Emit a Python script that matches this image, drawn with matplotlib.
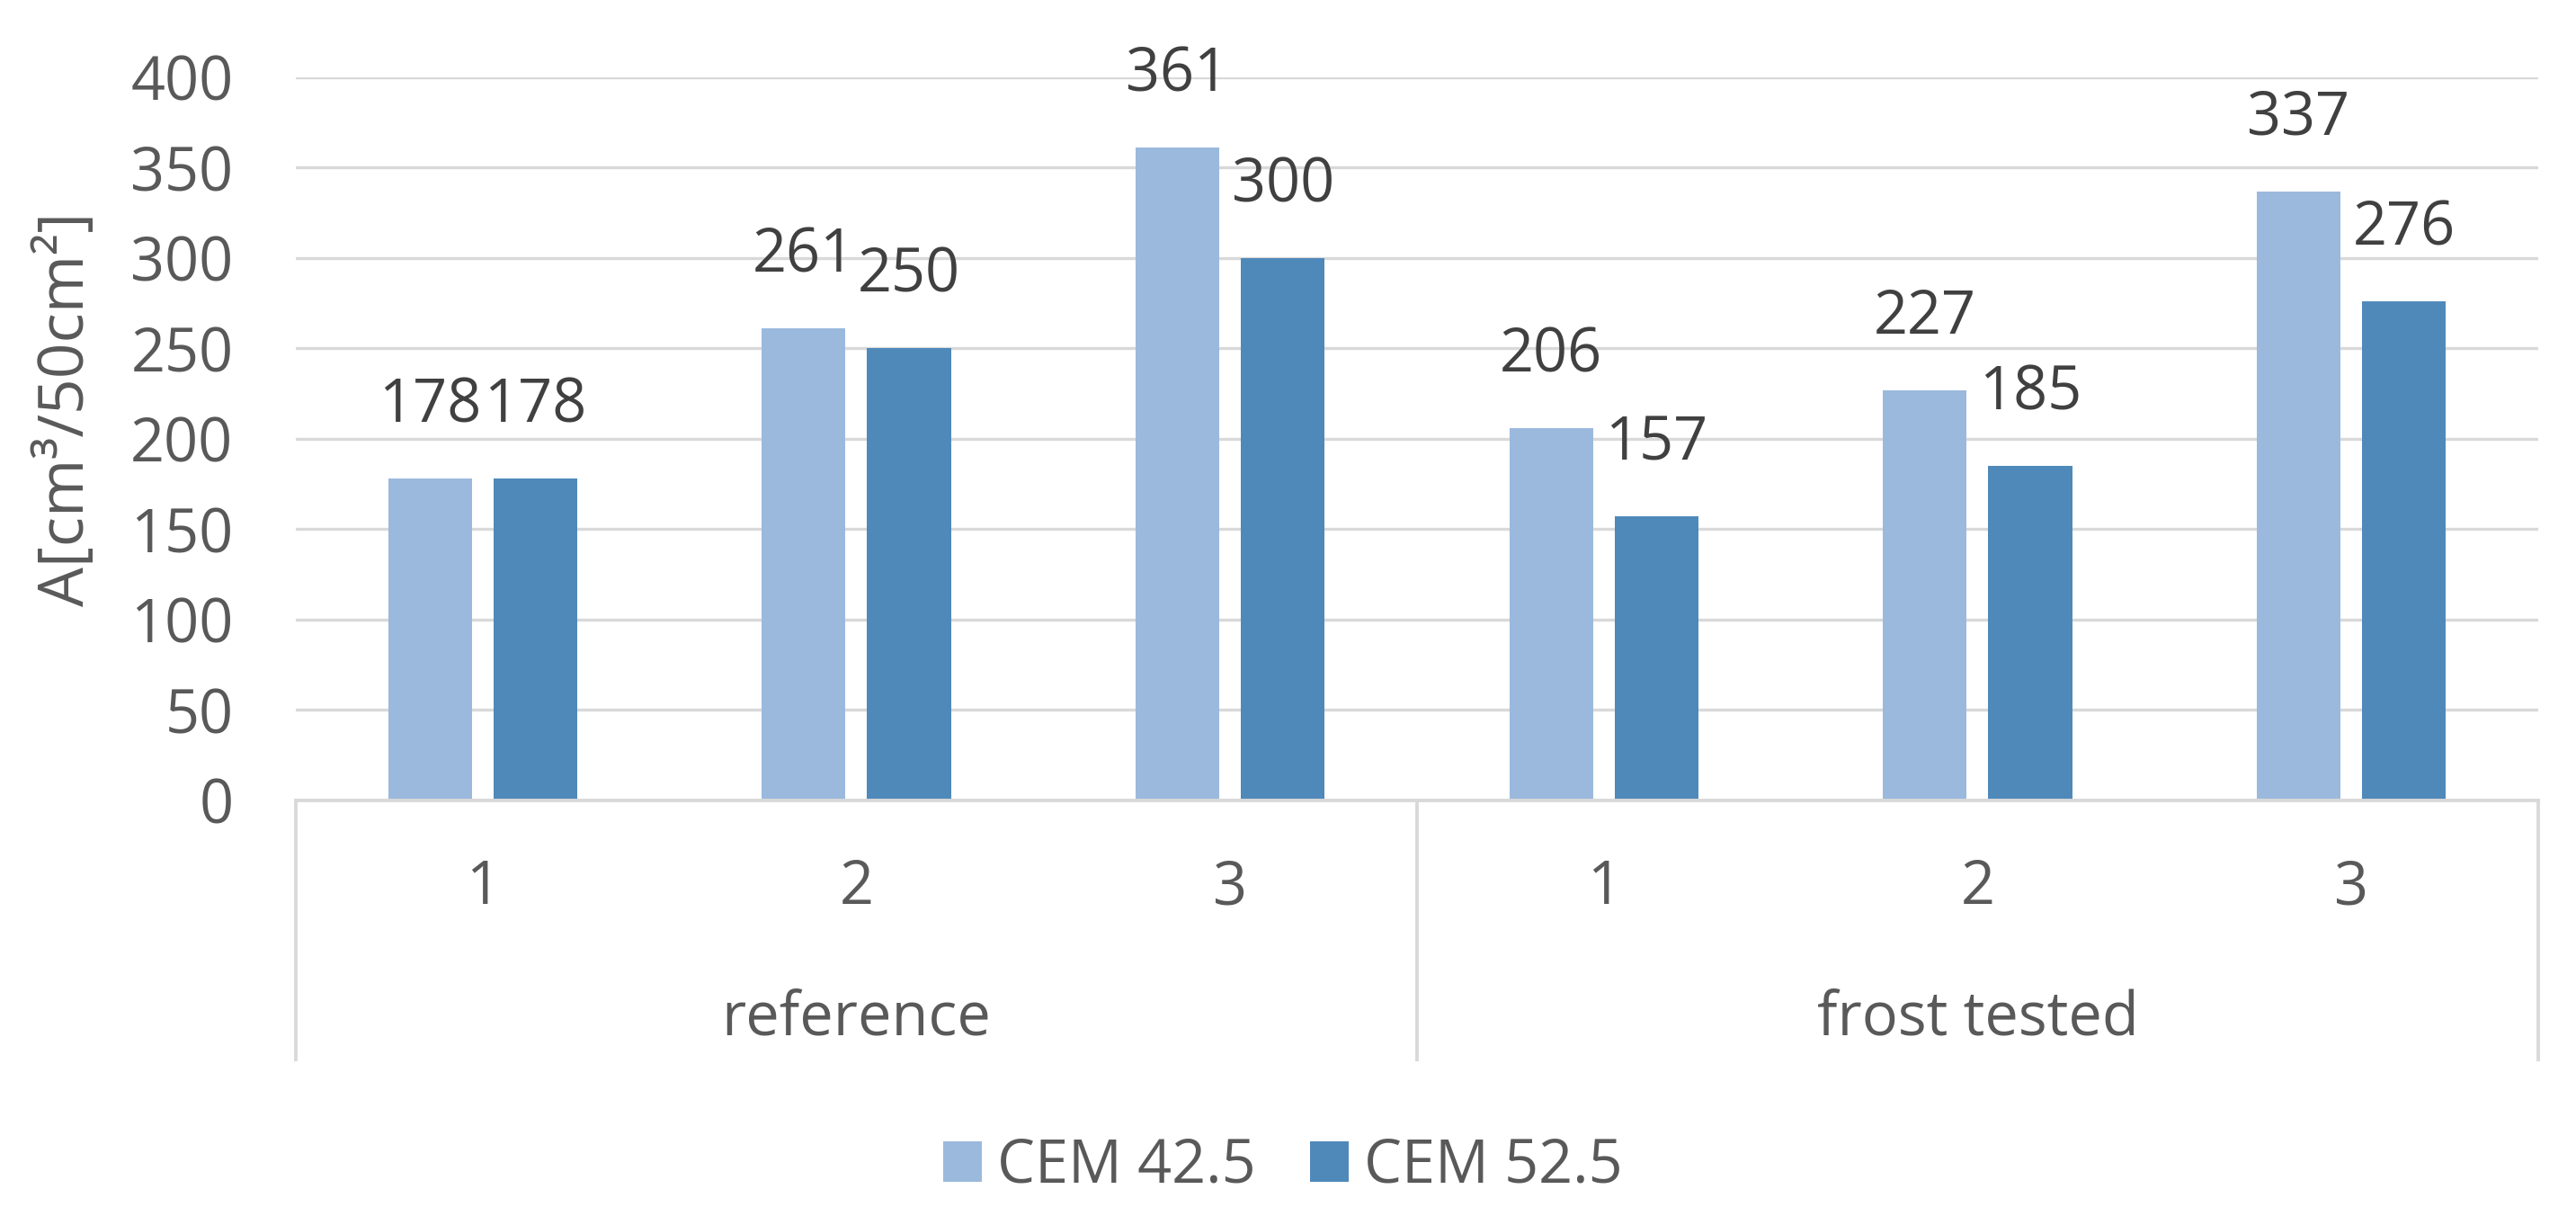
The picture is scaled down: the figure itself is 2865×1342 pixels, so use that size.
import numpy as np
import matplotlib.pyplot as plt

# data
groups = ["reference", "frost tested"]
samples = ["1", "2", "3"]
series_names = ["CEM 42.5", "CEM 52.5"]
cem_425 = [178, 261, 361, 206, 227, 337]
cem_525 = [178, 250, 300, 157, 185, 276]
y_ticks = [0, 50, 100, 150, 200, 250, 300, 350, 400]

light = "#9BB9DD"
dark = "#4F89BA"
grid_col = "#D9D9D9"
txt_col = "#595959"
lab_col = "#404040"

plt.rcParams['font.family'] = ['Open Sans', 'DejaVu Sans']

fig = plt.figure(figsize=(14.325, 6.71), dpi=200)
ax = fig.add_axes([0.1148, 0.3368, 0.8705, 0.5992])

n = len(cem_425)
x = np.arange(n)
bw = 0.224
off = 0.141
b1 = ax.bar(x - off, cem_425, bw, color=light, label=series_names[0], zorder=3)
b2 = ax.bar(x + off, cem_525, bw, color=dark, label=series_names[1], zorder=3)

for bars in (b1, b2):
    for r in bars:
        h = r.get_height()
        ax.annotate(f"{h:.0f}", (r.get_x() + r.get_width() / 2, h),
                    xytext=(0, 29), textcoords="offset points",
                    ha="center", va="center", fontsize=24, color=lab_col)

ax.set_xlim(-0.5, n - 0.5)
ax.set_ylim(0, 400)
ax.set_yticks(y_ticks)
ax.tick_params(axis='y', length=0, pad=25, labelsize=24, labelcolor=txt_col)
ax.set_xticks([])
ax.yaxis.grid(True, color=grid_col, linewidth=1.2, zorder=0)
ax.set_axisbelow(True)
for s in ["top", "right", "left"]:
    ax.spines[s].set_visible(False)
ax.spines["bottom"].set_color(grid_col)
ax.spines["bottom"].set_linewidth(1.4)
ax.spines["bottom"].set_zorder(4)

ax.set_ylabel("A[cm³/50cm²]", fontsize=25, color=txt_col, va="center")
ax.yaxis.set_label_coords(-0.102, 0.541)

# two-level category axis
trans = ax.get_xaxis_transform()
for i in range(n):
    ax.text(x[i], -0.121, samples[i % 3], transform=trans, ha="center",
            va="center", fontsize=24, color=txt_col)
for g, name in enumerate(groups):
    ax.text(g * 3 + 1, -0.302, name, transform=trans, ha="center",
            va="center", fontsize=24, color=txt_col)
for xv in [-0.5, 2.5, 5.5]:
    ax.plot([xv, xv], [0, -0.358], transform=trans, color=grid_col,
            linewidth=1.4, clip_on=False)

fig.legend(handles=[b1, b2], loc="center", bbox_to_anchor=(0.498, 0.0335),
           ncol=2, frameon=False, fontsize=24, labelcolor=txt_col,
           handlelength=0.65, handleheight=0.65, columnspacing=0.9,
           handletextpad=0.25)

fig.savefig("out.png", dpi=200)
